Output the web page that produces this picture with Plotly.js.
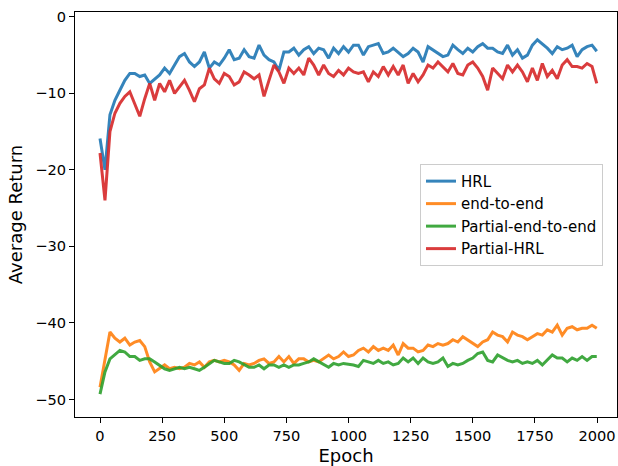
<!DOCTYPE html>
<html>
<head>
<meta charset="utf-8">
<script src="https://cdn.plot.ly/plotly-3.0.1.min.js"></script>
<style>html,body{margin:0;padding:0;background:#fff;}#chart{width:618px;height:466px;}</style>
</head>
<body>
<div id="chart"></div>
<script>
// Epochs sampled every 20, last point at 1999
const epochs = [];
for (let e = 0; e <= 1980; e += 20) epochs.push(e);
epochs.push(1999);

const hrl = [
-15.9,-20.0,-12.8,-10.9,-9.6,-8.3,-7.4,-7.4,-7.8,-7.6,
-8.7,-8.1,-7.6,-6.7,-7.4,-6.3,-5.2,-4.8,-5.9,-6.5,
-5.9,-4.6,-6.7,-5.9,-6.3,-5.4,-4.3,-5.6,-5.4,-4.3,
-5.2,-5.4,-3.7,-5.0,-5.6,-5.9,-7.0,-4.6,-4.6,-4.1,
-5.0,-4.3,-3.9,-4.8,-4.1,-4.3,-5.4,-4.1,-4.8,-3.9,
-4.6,-3.7,-3.7,-5.0,-3.9,-3.7,-3.5,-4.8,-4.6,-4.1,
-4.6,-5.2,-4.8,-4.1,-4.6,-5.9,-3.9,-4.3,-4.8,-5.2,
-5.0,-3.7,-4.3,-4.8,-4.1,-4.6,-3.9,-3.5,-4.1,-4.1,
-4.6,-4.8,-3.7,-5.0,-4.3,-5.4,-5.0,-3.7,-3.0,-3.5,
-4.1,-4.8,-3.9,-4.3,-4.1,-3.7,-5.2,-4.3,-3.9,-3.7,-4.5
];

const endToEnd = [
-48.4,-44.7,-41.2,-42.0,-42.5,-42.0,-42.9,-42.5,-42.3,-43.1,
-45.1,-46.4,-46.0,-45.5,-46.0,-45.8,-46.0,-45.8,-45.3,-45.5,
-45.1,-45.8,-45.1,-44.9,-45.1,-44.9,-45.1,-45.5,-46.2,-45.3,
-45.5,-45.3,-44.9,-44.7,-45.3,-45.1,-44.4,-45.1,-44.4,-45.3,
-44.7,-44.7,-45.1,-44.9,-45.1,-44.7,-44.2,-44.7,-44.4,-43.8,
-44.4,-44.2,-43.6,-43.3,-43.8,-43.1,-43.6,-43.3,-43.6,-42.9,
-44.2,-42.7,-43.3,-43.3,-43.8,-43.6,-42.9,-43.1,-42.7,-42.9,
-42.7,-42.2,-42.5,-41.8,-42.2,-42.7,-43.1,-42.5,-42.2,-41.2,
-41.6,-41.8,-42.5,-41.2,-41.6,-41.8,-42.2,-41.8,-41.4,-41.6,
-40.9,-41.2,-40.3,-41.6,-40.7,-40.5,-40.9,-40.7,-40.7,-40.3,-40.7
];

const partialEndToEnd = [
-49.3,-46.4,-44.7,-44.2,-43.6,-43.8,-44.4,-44.4,-44.9,-44.7,
-44.7,-45.1,-45.5,-46.0,-46.2,-46.0,-45.8,-46.0,-45.8,-46.0,
-46.2,-45.8,-45.3,-44.9,-45.1,-45.3,-45.3,-44.9,-45.1,-45.5,
-45.8,-45.8,-45.5,-46.0,-45.5,-45.5,-45.8,-45.5,-45.8,-45.5,
-45.5,-45.3,-45.1,-44.7,-45.1,-45.5,-45.8,-45.3,-45.5,-45.3,
-45.4,-45.5,-45.7,-44.9,-45.1,-45.3,-44.9,-45.3,-45.1,-45.5,
-45.3,-44.6,-45.1,-44.6,-45.3,-44.6,-45.1,-45.3,-45.1,-44.6,
-45.7,-45.3,-45.5,-45.3,-44.9,-44.6,-44.0,-43.8,-44.9,-45.1,
-44.2,-44.6,-44.9,-45.1,-44.9,-45.3,-45.1,-45.3,-44.9,-45.5,
-44.9,-44.2,-44.6,-44.6,-45.1,-44.6,-44.9,-44.4,-44.9,-44.4,-44.4
];

const partialHrl = [
-17.8,-24.0,-15.0,-12.6,-11.3,-10.4,-9.8,-11.5,-13.0,-10.7,
-8.7,-10.9,-8.7,-9.8,-8.3,-10.0,-9.1,-8.3,-9.6,-11.1,
-9.4,-8.9,-6.7,-8.1,-8.7,-7.4,-7.8,-8.9,-8.5,-7.2,
-7.6,-8.1,-7.6,-10.4,-8.3,-6.3,-7.2,-8.7,-6.7,-7.4,
-6.7,-7.6,-5.4,-6.3,-7.6,-6.3,-7.4,-7.8,-7.0,-7.6,
-6.7,-7.2,-7.4,-7.2,-8.5,-7.2,-7.8,-6.5,-7.6,-6.5,
-7.6,-6.3,-8.7,-7.4,-8.5,-7.6,-6.3,-6.7,-5.9,-6.5,
-7.2,-6.1,-7.4,-7.6,-6.3,-5.9,-6.7,-7.8,-9.6,-6.7,
-7.4,-8.1,-6.3,-7.2,-6.3,-7.2,-8.5,-6.7,-8.3,-6.1,
-7.8,-7.0,-8.1,-6.3,-5.6,-6.5,-6.5,-6.7,-6.1,-6.5,-8.7
];

const seriesNames = ["HRL", "end-to-end", "Partial-end-to-end", "Partial-HRL"];
const seriesColors = ["#1f77b4", "#ff7f0e", "#2ca02c", "#d62728"];
const seriesValues = [hrl, endToEnd, partialEndToEnd, partialHrl];

const xTickVals = [0, 250, 500, 750, 1000, 1250, 1500, 1750, 2000];
const yTickVals = [-50, -40, -30, -20, -10, 0];
const yTickText = ["\u221250", "\u221240", "\u221230", "\u221220", "\u221210", "0"];

const FONT = "DejaVu Sans, sans-serif";

const traces = seriesValues.map((vals, i) => ({
  type: "scatter",
  mode: "lines",
  x: epochs,
  y: vals,
  name: seriesNames[i],
  legendgroup: "g" + i,
  line: { color: seriesColors[i], width: 3 },
  opacity: 0.9
}));

const layout = {
  width: 618,
  height: 466,
  margin: { l: 75, r: 1, t: 12, b: 49, pad: 0 },
  paper_bgcolor: "#fff",
  plot_bgcolor: "#fff",
  font: { family: FONT, size: 15, color: "#000" },
  showlegend: true,
  legend: {
    x: 0.6365, y: 0.625, xanchor: "left", yanchor: "top",
    bgcolor: "rgba(255,255,255,0.8)",
    bordercolor: "#cccccc", borderwidth: 1,
    font: { family: FONT, size: 15, color: "#000" },
    tracegroupgap: 0,
    itemwidth: 30
  },
  xaxis: {
    range: [-100.6, 2080.5],
    tickvals: xTickVals,
    ticks: "outside", ticklen: 5, tickwidth: 1, tickcolor: "#000",
    showline: true, linecolor: "#000", linewidth: 1, mirror: true,
    showgrid: false, zeroline: false,
    tickfont: { family: FONT, size: 14.6, color: "#000" },
    title: { text: "Epoch", font: { family: FONT, size: 18, color: "#000" }, standoff: 6 },
    automargin: false
  },
  yaxis: {
    range: [-52.3, 0.63],
    tickvals: yTickVals,
    ticktext: yTickText,
    ticks: "outside", ticklen: 5, tickwidth: 1, tickcolor: "#000",
    showline: true, linecolor: "#000", linewidth: 1, mirror: true,
    showgrid: false, zeroline: false,
    tickfont: { family: FONT, size: 14.6, color: "#000" },
    title: { text: "Average Return", font: { family: FONT, size: 18, color: "#000" }, standoff: 7 },
    automargin: false
  }
};

Plotly.newPlot("chart", traces, layout, { displayModeBar: false, staticPlot: true });
</script>
</body>
</html>
